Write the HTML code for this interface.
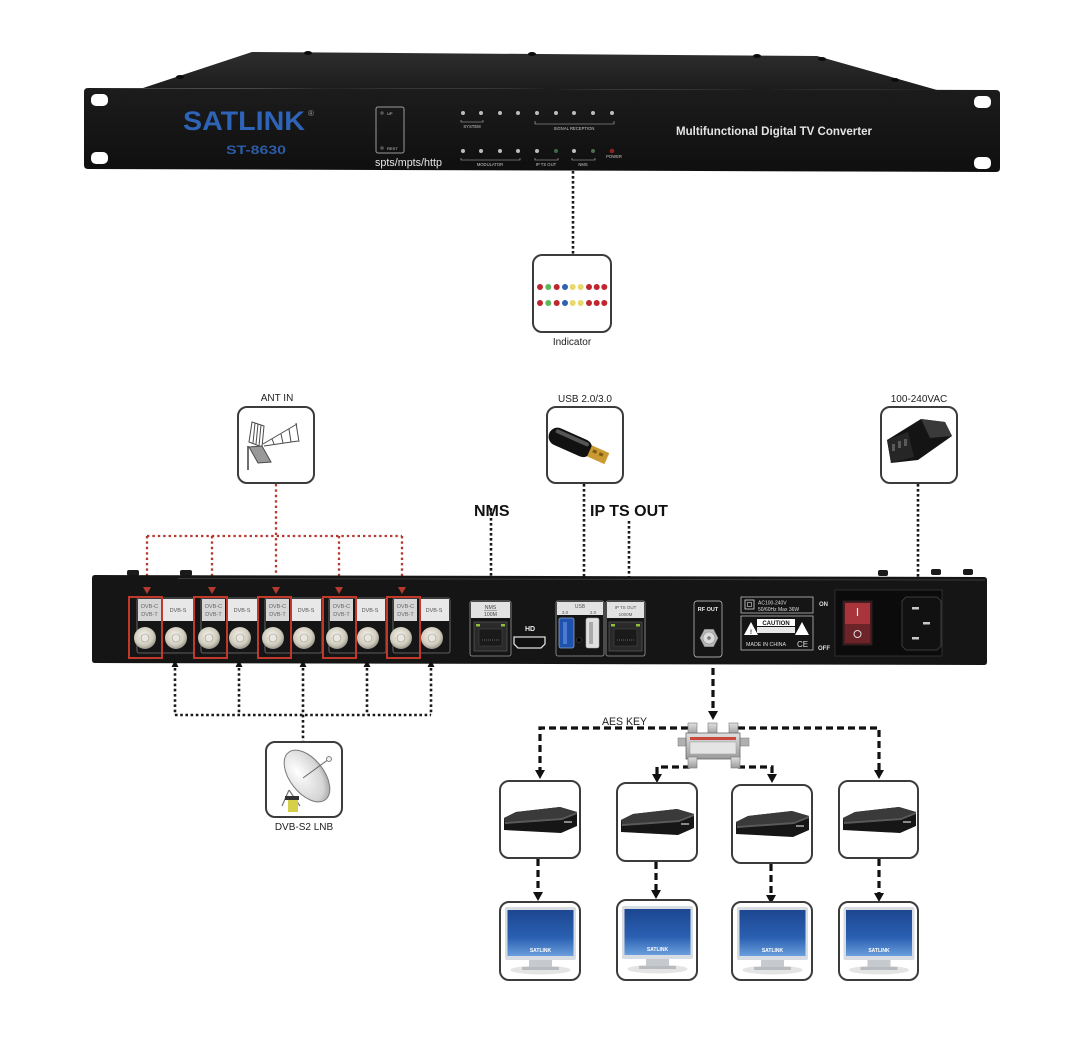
<!DOCTYPE html>
<html><head><meta charset="utf-8"><style>
html,body{margin:0;padding:0;background:#fff;}
svg{display:block;}
text{font-family:"Liberation Sans",sans-serif;}
</style></head><body>
<svg width="1080" height="1038" viewBox="0 0 1080 1038" xmlns="http://www.w3.org/2000/svg">
<defs>
 <linearGradient id="lid" x1="0" y1="0" x2="0" y2="1"><stop offset="0" stop-color="#2e2e2e"/><stop offset="1" stop-color="#1c1c1c"/></linearGradient>
 <linearGradient id="face" x1="0" y1="0" x2="0" y2="1"><stop offset="0" stop-color="#1c1c1c"/><stop offset="1" stop-color="#0f0f0f"/></linearGradient>
 <radialGradient id="fconn" cx="0.45" cy="0.4" r="0.65"><stop offset="0" stop-color="#f6f3ea"/><stop offset="0.65" stop-color="#cfcbbd"/><stop offset="1" stop-color="#8a877d"/></radialGradient>
 <linearGradient id="screen" x1="0" y1="0" x2="0" y2="1"><stop offset="0" stop-color="#1c4690"/><stop offset="0.6" stop-color="#2a60b2"/><stop offset="1" stop-color="#6a9edc"/></linearGradient>
 <linearGradient id="metal" x1="0" y1="0" x2="0" y2="1"><stop offset="0" stop-color="#e0e0e0"/><stop offset="1" stop-color="#9a9a9a"/></linearGradient>
 <radialGradient id="dish" cx="0.35" cy="0.35" r="0.8"><stop offset="0" stop-color="#ffffff"/><stop offset="0.7" stop-color="#d6d6d6"/><stop offset="1" stop-color="#8f8f8f"/></radialGradient>
</defs>

<!-- ================= FRONT PANEL ================= -->
<polygon points="143,88 252,52 817,56 937,90" fill="url(#lid)"/>
<g fill="#0c0c0c">
 <ellipse cx="180" cy="77" rx="4" ry="2"/>
 <ellipse cx="308" cy="53" rx="4" ry="2"/>
 <ellipse cx="532" cy="54" rx="4" ry="2"/>
 <ellipse cx="757" cy="56" rx="4" ry="2"/>
 <ellipse cx="822" cy="59" rx="4" ry="2"/>
 <ellipse cx="895" cy="80" rx="4" ry="2"/>
</g>
<path d="M88,88 L996,90 Q1000,90 1000,94 L1000,168 Q1000,172 996,172 L88,169 Q84,169 84,165 L84,92 Q84,88 88,88 Z" fill="url(#face)"/>
<g fill="#fff">
 <rect x="91" y="94" width="17" height="12" rx="5"/>
 <rect x="91" y="152" width="17" height="12" rx="5"/>
 <rect x="974" y="96" width="17" height="12" rx="5"/>
 <rect x="974" y="157" width="17" height="12" rx="5"/>
</g>
<text x="183" y="130" font-size="27" font-weight="bold" fill="#2e64b8" textLength="122" lengthAdjust="spacingAndGlyphs">SATLINK</text>
<text x="308" y="116" font-size="8" fill="#999">®</text>
<text x="226" y="154" font-size="12" font-weight="bold" fill="#2c5ca6" textLength="60" lengthAdjust="spacingAndGlyphs">ST-8630</text>

<rect x="376" y="107" width="28" height="46" rx="2" fill="none" stroke="#9a9a9a" stroke-width="1"/>
<circle cx="382" cy="113" r="1.8" fill="#555"/>
<circle cx="382" cy="148" r="1.8" fill="#555"/>
<text x="387" y="115" font-size="4" fill="#ccc">UP</text>
<text x="387" y="150" font-size="4" fill="#ccc">REST</text>
<text x="375" y="166" font-size="11" fill="#e6e6e6" textLength="67" lengthAdjust="spacingAndGlyphs">spts/mpts/http</text>

<!-- LEDs -->
<g fill="#bdbdbd">
 <circle cx="463" cy="113" r="2"/><circle cx="481" cy="113" r="2"/><circle cx="500" cy="113" r="2"/><circle cx="518" cy="113" r="2"/>
 <circle cx="537" cy="113" r="2"/><circle cx="556" cy="113" r="2"/><circle cx="574" cy="113" r="2"/><circle cx="593" cy="113" r="2"/><circle cx="612" cy="113" r="2"/>
 <circle cx="463" cy="151" r="2"/><circle cx="481" cy="151" r="2"/><circle cx="500" cy="151" r="2"/><circle cx="518" cy="151" r="2"/>
 <circle cx="537" cy="151" r="2"/><circle cx="574" cy="151" r="2"/>
</g>
<circle cx="556" cy="151" r="2" fill="#3d6a3d"/>
<circle cx="593" cy="151" r="2" fill="#4c6e4c"/>
<circle cx="612" cy="151" r="2.3" fill="#8a2222"/>
<g stroke="#bbb" stroke-width="0.6" fill="none">
 <path d="M461,120 V122 H483 V120"/>
 <path d="M535,121 V124 H614 V121"/>
 <path d="M461,158 V160 H520 V158"/>
 <path d="M535,158 V160 H558 V158"/>
 <path d="M572,158 V160 H595 V158"/>
</g>
<g font-size="4.2" fill="#c8c8c8" text-anchor="middle">
 <text x="472" y="128">SYSTEM</text>
 <text x="574" y="130">SIGNAL RECEPTION</text>
 <text x="490" y="166">MODULATOR</text>
 <text x="546" y="166">IP TS OUT</text>
 <text x="583" y="166">NMS</text>
 <text x="614" y="158">POWER</text>
</g>
<text x="676" y="135" font-size="12" font-weight="bold" fill="#e4e4e4" textLength="196" lengthAdjust="spacingAndGlyphs">Multifunctional Digital TV Converter</text>

<!-- ================= INDICATOR ================= -->
<line x1="573" y1="171" x2="573" y2="255" stroke="#1a1a1a" stroke-width="2.6" stroke-dasharray="2.6 2.4"/>
<rect x="533" y="255" width="78" height="77" rx="9" fill="#fff" stroke="#3c3c3c" stroke-width="2"/>
<g>
 <circle cx="540" cy="287" r="3" fill="#c0262d"/><circle cx="548.3" cy="287" r="3" fill="#5cb85c"/><circle cx="556.7" cy="287" r="3" fill="#c0262d"/><circle cx="565" cy="287" r="3" fill="#3060b0"/><circle cx="572.7" cy="287" r="3" fill="#e6d86a"/><circle cx="580.7" cy="287" r="3" fill="#e6d86a"/><circle cx="589" cy="287" r="3" fill="#c0262d"/><circle cx="596.7" cy="287" r="3" fill="#c0262d"/><circle cx="604.3" cy="287" r="3" fill="#c0262d"/>
 <circle cx="540" cy="303" r="3" fill="#c0262d"/><circle cx="548.3" cy="303" r="3" fill="#5cb85c"/><circle cx="556.7" cy="303" r="3" fill="#c0262d"/><circle cx="565" cy="303" r="3" fill="#3060b0"/><circle cx="572.7" cy="303" r="3" fill="#e6d86a"/><circle cx="580.7" cy="303" r="3" fill="#e6d86a"/><circle cx="589" cy="303" r="3" fill="#c0262d"/><circle cx="596.7" cy="303" r="3" fill="#c0262d"/><circle cx="604.3" cy="303" r="3" fill="#c0262d"/>
</g>
<text x="572" y="345" font-size="10" fill="#222" text-anchor="middle">Indicator</text>

<!-- ================= TOP ICONS ================= -->
<text x="277" y="401" font-size="10" fill="#222" text-anchor="middle">ANT IN</text>
<rect x="238" y="407" width="76" height="76" rx="9" fill="#fff" stroke="#3c3c3c" stroke-width="2"/>
<g stroke="#4a4a4a" stroke-width="1" fill="none">
 <polygon points="252,422 264,426 262,447 249,442"/>
 <line x1="255" y1="423" x2="253" y2="443"/><line x1="258" y1="424" x2="256" y2="444"/><line x1="261" y1="425" x2="259" y2="446"/>
 <line x1="263" y1="444" x2="297" y2="424"/><line x1="264" y1="446" x2="298" y2="441"/>
 <line x1="296" y1="423" x2="299" y2="442"/>
 <line x1="272" y1="439" x2="274" y2="444"/><line x1="281" y1="434" x2="283" y2="443"/><line x1="289" y1="429" x2="291" y2="442"/>
 <polygon points="249,447 262,446 271,462 258,463" fill="#999"/>
 <line x1="248" y1="446" x2="248" y2="470" stroke-width="1.6"/>
</g>

<text x="585" y="402" font-size="10" fill="#222" text-anchor="middle">USB 2.0/3.0</text>
<rect x="547" y="407" width="76" height="76" rx="9" fill="#fff" stroke="#3c3c3c" stroke-width="2"/>
<g transform="translate(574,444) rotate(24)">
 <rect x="-27" y="-9" width="46" height="18" rx="9" fill="#111"/>
 <rect x="-22" y="-7" width="36" height="4" rx="2" fill="#555"/>
 <rect x="17" y="-6" width="19" height="12" fill="#c99a32"/>
 <rect x="20" y="-3" width="4" height="3" fill="#7a5a14"/><rect x="27" y="-3" width="4" height="3" fill="#7a5a14"/>
</g>

<text x="919" y="402" font-size="10" fill="#222" text-anchor="middle">100-240VAC</text>
<rect x="881" y="407" width="76" height="76" rx="9" fill="#fff" stroke="#3c3c3c" stroke-width="2"/>
<polygon points="887,440 921,419 945,422 952,436 918,460 891,463" fill="#141414"/>
<polygon points="921,419 945,422 952,436 930,438" fill="#3a3a3a"/>
<polygon points="887,440 908,432 914,457 891,463" fill="#262626"/>
<g fill="#5a5a5a"><rect x="892" y="444" width="3" height="7"/><rect x="898" y="441" width="3" height="7"/><rect x="904" y="439" width="3" height="7"/></g>

<!-- ================= LABELS / CONNECTORS ABOVE REAR ================= -->
<text x="474" y="516" font-size="16" font-weight="bold" fill="#111">NMS</text>
<text x="590" y="516" font-size="16" font-weight="bold" fill="#111">IP TS OUT</text>
<g stroke="#1a1a1a" stroke-width="2.6" stroke-dasharray="2.6 2.4" fill="none">
 <line x1="491" y1="508" x2="491" y2="600"/>
 <line x1="584" y1="484" x2="584" y2="600"/>
 <line x1="629" y1="521" x2="629" y2="600"/>
 <line x1="918" y1="484" x2="918" y2="578"/>
</g>
<g stroke="#b5392e" stroke-width="2.3" stroke-dasharray="2.4 3" fill="none">
 <line x1="276" y1="484" x2="276" y2="588"/>
 <line x1="147" y1="536" x2="402" y2="536"/>
 <line x1="147" y1="536" x2="147" y2="588"/>
 <line x1="212" y1="536" x2="212" y2="588"/>
 <line x1="339" y1="536" x2="339" y2="588"/>
 <line x1="402" y1="536" x2="402" y2="588"/>
</g>

<!-- ================= REAR PANEL ================= -->
<g fill="#1a1a1a">
 <rect x="127" y="570" width="12" height="6" rx="2"/>
 <rect x="180" y="570" width="12" height="6" rx="2"/>
 <rect x="878" y="570" width="10" height="6" rx="2"/>
 <rect x="931" y="569" width="10" height="6" rx="2"/>
 <rect x="963" y="569" width="10" height="6" rx="2"/>
</g>
<path d="M95,575 L984,577 Q987,577 987,580 L987,662 Q987,665 984,665 L95,663 Q92,663 92,660 L92,578 Q92,575 95,575 Z" fill="#151515"/>
<line x1="178" y1="578.5" x2="985" y2="580" stroke="#3a3a3a" stroke-width="1"/>

<!-- red arrows -->
<g fill="#b5392e">
 <polygon points="143,587 151,587 147,594"/><polygon points="208,587 216,587 212,594"/><polygon points="272,587 280,587 276,594"/><polygon points="335,587 343,587 339,594"/><polygon points="398,587 406,587 402,594"/>
</g>

<!-- input pairs -->
<g>
 <g transform="translate(0,0)">
  <rect x="137" y="598" width="57" height="55" rx="2" fill="none" stroke="#7a7a7a" stroke-width="0.8"/>
  <rect x="138" y="599" width="23" height="22" fill="#d6d6d6"/><rect x="163" y="599" width="30" height="22" fill="#e8e8e8"/>
  <text x="149.5" y="608" font-size="5.5" fill="#666" text-anchor="middle">DVB-C</text><text x="149.5" y="616" font-size="5.5" fill="#666" text-anchor="middle">DVB-T</text>
  <text x="178" y="612" font-size="5.5" fill="#555" text-anchor="middle">DVB-S</text>
  <circle cx="145" cy="638" r="11" fill="url(#fconn)"/><circle cx="145" cy="638" r="4" fill="#e8e6de" stroke="#9a978d" stroke-width="0.6"/>
  <circle cx="176" cy="638" r="11" fill="url(#fconn)"/><circle cx="176" cy="638" r="4" fill="#e8e6de" stroke="#9a978d" stroke-width="0.6"/>
  <rect x="129" y="597" width="33" height="61" fill="none" stroke="#c0392b" stroke-width="2"/>
 </g>
 <g transform="translate(64,0)">
  <rect x="137" y="598" width="57" height="55" rx="2" fill="none" stroke="#7a7a7a" stroke-width="0.8"/>
  <rect x="138" y="599" width="23" height="22" fill="#d6d6d6"/><rect x="163" y="599" width="30" height="22" fill="#e8e8e8"/>
  <text x="149.5" y="608" font-size="5.5" fill="#666" text-anchor="middle">DVB-C</text><text x="149.5" y="616" font-size="5.5" fill="#666" text-anchor="middle">DVB-T</text>
  <text x="178" y="612" font-size="5.5" fill="#555" text-anchor="middle">DVB-S</text>
  <circle cx="145" cy="638" r="11" fill="url(#fconn)"/><circle cx="145" cy="638" r="4" fill="#e8e6de" stroke="#9a978d" stroke-width="0.6"/>
  <circle cx="176" cy="638" r="11" fill="url(#fconn)"/><circle cx="176" cy="638" r="4" fill="#e8e6de" stroke="#9a978d" stroke-width="0.6"/>
  <rect x="130" y="597" width="33" height="61" fill="none" stroke="#c0392b" stroke-width="2"/>
 </g>
 <g transform="translate(128,0)">
  <rect x="137" y="598" width="57" height="55" rx="2" fill="none" stroke="#7a7a7a" stroke-width="0.8"/>
  <rect x="138" y="599" width="23" height="22" fill="#d6d6d6"/><rect x="163" y="599" width="30" height="22" fill="#e8e8e8"/>
  <text x="149.5" y="608" font-size="5.5" fill="#666" text-anchor="middle">DVB-C</text><text x="149.5" y="616" font-size="5.5" fill="#666" text-anchor="middle">DVB-T</text>
  <text x="178" y="612" font-size="5.5" fill="#555" text-anchor="middle">DVB-S</text>
  <circle cx="145" cy="638" r="11" fill="url(#fconn)"/><circle cx="145" cy="638" r="4" fill="#e8e6de" stroke="#9a978d" stroke-width="0.6"/>
  <circle cx="176" cy="638" r="11" fill="url(#fconn)"/><circle cx="176" cy="638" r="4" fill="#e8e6de" stroke="#9a978d" stroke-width="0.6"/>
  <rect x="130" y="597" width="33" height="61" fill="none" stroke="#c0392b" stroke-width="2"/>
 </g>
 <g transform="translate(192,0)">
  <rect x="137" y="598" width="57" height="55" rx="2" fill="none" stroke="#7a7a7a" stroke-width="0.8"/>
  <rect x="138" y="599" width="23" height="22" fill="#d6d6d6"/><rect x="163" y="599" width="30" height="22" fill="#e8e8e8"/>
  <text x="149.5" y="608" font-size="5.5" fill="#666" text-anchor="middle">DVB-C</text><text x="149.5" y="616" font-size="5.5" fill="#666" text-anchor="middle">DVB-T</text>
  <text x="178" y="612" font-size="5.5" fill="#555" text-anchor="middle">DVB-S</text>
  <circle cx="145" cy="638" r="11" fill="url(#fconn)"/><circle cx="145" cy="638" r="4" fill="#e8e6de" stroke="#9a978d" stroke-width="0.6"/>
  <circle cx="176" cy="638" r="11" fill="url(#fconn)"/><circle cx="176" cy="638" r="4" fill="#e8e6de" stroke="#9a978d" stroke-width="0.6"/>
  <rect x="131" y="597" width="33" height="61" fill="none" stroke="#c0392b" stroke-width="2"/>
 </g>
 <g transform="translate(256,0)">
  <rect x="137" y="598" width="57" height="55" rx="2" fill="none" stroke="#7a7a7a" stroke-width="0.8"/>
  <rect x="138" y="599" width="23" height="22" fill="#d6d6d6"/><rect x="163" y="599" width="30" height="22" fill="#e8e8e8"/>
  <text x="149.5" y="608" font-size="5.5" fill="#666" text-anchor="middle">DVB-C</text><text x="149.5" y="616" font-size="5.5" fill="#666" text-anchor="middle">DVB-T</text>
  <text x="178" y="612" font-size="5.5" fill="#555" text-anchor="middle">DVB-S</text>
  <circle cx="145" cy="638" r="11" fill="url(#fconn)"/><circle cx="145" cy="638" r="4" fill="#e8e6de" stroke="#9a978d" stroke-width="0.6"/>
  <circle cx="176" cy="638" r="11" fill="url(#fconn)"/><circle cx="176" cy="638" r="4" fill="#e8e6de" stroke="#9a978d" stroke-width="0.6"/>
  <rect x="131" y="597" width="33" height="61" fill="none" stroke="#c0392b" stroke-width="2"/>
 </g>
</g>

<!-- NMS port -->
<rect x="470" y="601" width="41" height="55" rx="2" fill="none" stroke="#9a9a9a" stroke-width="0.8"/>
<rect x="471" y="602" width="39" height="16" fill="#e2e2e2"/>
<text x="490.5" y="609" font-size="5.2" fill="#444" text-anchor="middle">NMS</text>
<line x1="484" y1="610.5" x2="497" y2="610.5" stroke="#666" stroke-width="0.5"/>
<text x="490.5" y="616" font-size="5.2" fill="#444" text-anchor="middle">100M</text>
<rect x="474" y="622" width="33" height="29" fill="#2a2a2a" stroke="#555" stroke-width="0.8"/>
<rect x="479" y="629" width="23" height="17" fill="#1a1a1a" stroke="#444" stroke-width="0.6"/>
<rect x="476" y="624" width="4" height="2.5" fill="#8fbf3a"/><rect x="501" y="624" width="4" height="2.5" fill="#8fbf3a"/>
<line x1="482" y1="640" x2="499" y2="640" stroke="#666" stroke-width="1" stroke-dasharray="1 1"/>

<!-- HDMI -->
<text x="530" y="631" font-size="7" font-weight="bold" fill="#eee" text-anchor="middle">HD</text>
<path d="M514,637 H545 V644 L541,648 H518 L514,644 Z" fill="#111" stroke="#ddd" stroke-width="1.3"/>

<!-- USB -->
<rect x="556" y="601" width="48" height="55" rx="2" fill="none" stroke="#9a9a9a" stroke-width="0.8"/>
<rect x="557" y="602" width="46" height="13" fill="#e2e2e2"/>
<text x="580" y="608" font-size="5" fill="#555" text-anchor="middle">USB</text>
<text x="565" y="614" font-size="4.5" fill="#555" text-anchor="middle">3.0</text>
<text x="593" y="614" font-size="4.5" fill="#555" text-anchor="middle">2.0</text>
<rect x="559" y="618" width="15" height="30" rx="2" fill="#1f52ad" stroke="#8aa4cc" stroke-width="0.8"/>
<rect x="563" y="622" width="4" height="22" fill="#4a7ad0"/>
<rect x="586" y="618" width="13" height="30" rx="2" fill="#e0e0e0" stroke="#aaa" stroke-width="0.6"/>
<rect x="589" y="622" width="4" height="22" fill="#aaa"/>
<circle cx="579" cy="640" r="2.5" fill="#000" stroke="#444" stroke-width="0.6"/>

<!-- IP TS OUT -->
<rect x="606" y="601" width="39" height="55" rx="2" fill="none" stroke="#9a9a9a" stroke-width="0.8"/>
<rect x="607" y="602" width="37" height="16" fill="#e2e2e2"/>
<text x="625.5" y="609" font-size="4.5" fill="#555" text-anchor="middle">IP TS OUT</text>
<text x="625.5" y="616" font-size="4.5" fill="#555" text-anchor="middle">1000M</text>
<rect x="609" y="622" width="33" height="29" fill="#2a2a2a" stroke="#555" stroke-width="0.8"/>
<rect x="614" y="629" width="23" height="17" fill="#1a1a1a" stroke="#444" stroke-width="0.6"/>
<rect x="611" y="624" width="4" height="2.5" fill="#8fbf3a"/><rect x="636" y="624" width="4" height="2.5" fill="#8fbf3a"/>
<line x1="617" y1="640" x2="634" y2="640" stroke="#666" stroke-width="1" stroke-dasharray="1 1"/>

<!-- RF OUT -->
<rect x="694" y="601" width="28" height="56" rx="3" fill="none" stroke="#a5a5a5" stroke-width="0.9"/>
<text x="708" y="611" font-size="5.5" font-weight="bold" fill="#eee" text-anchor="middle">RF OUT</text>
<polygon points="718,638 713.5,646.7 704.5,646.7 700,638 704.5,629.3 713.5,629.3" fill="#b8b8b8" stroke="#777" stroke-width="0.6"/>
<circle cx="709" cy="638" r="6" fill="#dcdcdc" stroke="#888" stroke-width="0.6"/>
<circle cx="709" cy="638" r="1.8" fill="#777"/>

<!-- AC label / caution -->
<rect x="741" y="597" width="72" height="16" fill="none" stroke="#bbb" stroke-width="0.8"/>
<rect x="745" y="600" width="9" height="9" fill="none" stroke="#ddd" stroke-width="0.8"/>
<rect x="747.5" y="602.5" width="4" height="4" fill="none" stroke="#ddd" stroke-width="0.6"/>
<text x="758" y="604.5" font-size="5" fill="#ddd">AC100-240V</text>
<text x="758" y="611" font-size="5" fill="#ddd">50/60Hz Max 36W</text>
<rect x="741" y="616" width="72" height="34" fill="none" stroke="#bbb" stroke-width="0.8"/>
<rect x="757" y="619" width="38" height="7" fill="#fff"/>
<text x="776" y="625" font-size="6" font-weight="bold" fill="#111" text-anchor="middle">CAUTION</text>
<rect x="757" y="627" width="38" height="6" fill="#e8e8e8"/>
<polygon points="744,635 751,622 758,635" fill="#fff"/>
<polygon points="795,635 802,622 809,635" fill="#fff"/>
<text x="751" y="634" font-size="6" font-weight="bold" fill="#111" text-anchor="middle">!</text>
<text x="746" y="646" font-size="5.3" fill="#ddd">MADE IN CHINA</text>
<text x="797" y="647" font-size="8" fill="#ddd">CE</text>
<text x="819" y="606" font-size="6" font-weight="bold" fill="#ddd">ON</text>
<text x="818" y="650" font-size="6" font-weight="bold" fill="#ddd">OFF</text>

<!-- switch + inlet -->
<rect x="835" y="590" width="107" height="66" fill="#0b0b0b" stroke="#2e2e2e" stroke-width="1"/>
<rect x="843" y="601" width="29" height="44" fill="#4a1a1e" stroke="#222" stroke-width="1"/>
<rect x="845" y="603" width="25" height="21" fill="#a8343c"/>
<rect x="845" y="624" width="25" height="19" fill="#6d2428"/>
<line x1="857.5" y1="608" x2="857.5" y2="616" stroke="#eee" stroke-width="1.2"/>
<circle cx="857.5" cy="634" r="3.5" fill="none" stroke="#ddd" stroke-width="1"/>
<path d="M906,597 H937 L941,601 V646 L937,650 H906 L902,646 V601 Z" fill="#111" stroke="#3a3a3a" stroke-width="1"/>
<g fill="#c8c8c8">
 <rect x="912" y="607" width="7" height="2.5"/>
 <rect x="923" y="622" width="7" height="2.5"/>
 <rect x="912" y="637" width="7" height="2.5"/>
</g>

<!-- ================= LNB connectors (bottom-left) ================= -->
<g fill="#111">
 <polygon points="171.5,667 178.5,667 175,660"/><polygon points="235.5,667 242.5,667 239,660"/><polygon points="299.5,667 306.5,667 303,660"/><polygon points="363.5,667 370.5,667 367,660"/><polygon points="427.5,667 434.5,667 431,660"/>
</g>
<g stroke="#1a1a1a" stroke-width="2.6" stroke-dasharray="2.6 2.6" fill="none">
 <line x1="175" y1="668" x2="175" y2="715"/>
 <line x1="239" y1="668" x2="239" y2="715"/>
 <line x1="303" y1="668" x2="303" y2="742"/>
 <line x1="367" y1="668" x2="367" y2="715"/>
 <line x1="431" y1="668" x2="431" y2="715"/>
 <line x1="175" y1="715" x2="431" y2="715"/>
</g>
<rect x="266" y="742" width="76" height="75" rx="9" fill="#fff" stroke="#3c3c3c" stroke-width="2"/>
<g>
 <line x1="289" y1="790" x2="282" y2="806" stroke="#777" stroke-width="1.2"/>
 <line x1="289" y1="790" x2="300" y2="806" stroke="#777" stroke-width="1.2"/>
 <ellipse cx="307" cy="776" rx="17" ry="30" transform="rotate(-38 307 776)" fill="url(#dish)" stroke="#7a7a7a" stroke-width="1"/>
 <line x1="303" y1="778" x2="329" y2="759" stroke="#666" stroke-width="1"/>
 <circle cx="329" cy="759" r="2.5" fill="#eee" stroke="#666" stroke-width="0.8"/>
 <rect x="285" y="796" width="14" height="4" fill="#333"/>
 <rect x="288" y="800" width="10" height="12" fill="#d6cf4a"/>
</g>
<text x="304" y="830" font-size="10" fill="#222" text-anchor="middle">DVB-S2 LNB</text>

<!-- ================= RF distribution ================= -->
<g stroke="#111" stroke-width="3.2" stroke-dasharray="7 4" fill="none">
 <line x1="713" y1="668" x2="713" y2="711"/>
 <polyline points="688,728 540,728 540,770"/>
 <polyline points="738,728 879,728 879,770"/>
 <polyline points="690,767 657,767 657,774"/>
 <polyline points="738,767 772,767 772,774"/>
 <line x1="538" y1="859" x2="538" y2="892"/>
 <line x1="656" y1="862" x2="656" y2="890"/>
 <line x1="771" y1="864" x2="771" y2="895"/>
 <line x1="879" y1="859" x2="879" y2="893"/>
</g>
<g fill="#111">
 <polygon points="708,711 718,711 713,720"/>
 <polygon points="535,770 545,770 540,779"/>
 <polygon points="874,770 884,770 879,779"/>
 <polygon points="652,774 662,774 657,783"/>
 <polygon points="767,774 777,774 772,783"/>
 <polygon points="533,892 543,892 538,901"/>
 <polygon points="651,890 661,890 656,899"/>
 <polygon points="766,895 776,895 771,904"/>
 <polygon points="874,893 884,893 879,902"/>
</g>
<text x="602" y="725" font-size="11" fill="#222" textLength="45" lengthAdjust="spacingAndGlyphs">AES KEY</text>

<!-- splitter -->
<g>
 <rect x="688" y="723" width="9" height="12" fill="url(#metal)" stroke="#777" stroke-width="0.6"/>
 <rect x="708" y="723" width="9" height="12" fill="url(#metal)" stroke="#777" stroke-width="0.6"/>
 <rect x="729" y="723" width="9" height="12" fill="url(#metal)" stroke="#777" stroke-width="0.6"/>
 <rect x="678" y="738" width="12" height="8" fill="#b0b0b0" stroke="#777" stroke-width="0.5"/>
 <rect x="737" y="738" width="12" height="8" fill="#b0b0b0" stroke="#777" stroke-width="0.5"/>
 <rect x="686" y="733" width="54" height="26" fill="url(#metal)" stroke="#666" stroke-width="0.8"/>
 <rect x="690" y="737" width="46" height="3" fill="#c94a3a"/>
 <rect x="690" y="742" width="46" height="12" fill="#e4e4e4" stroke="#999" stroke-width="0.5"/>
 <rect x="688" y="757" width="9" height="11" fill="url(#metal)" stroke="#777" stroke-width="0.6"/>
 <rect x="731" y="757" width="9" height="11" fill="url(#metal)" stroke="#777" stroke-width="0.6"/>
</g>

<!-- STB boxes -->
<rect x="500" y="781" width="80" height="77" rx="9" fill="#fff" stroke="#3c3c3c" stroke-width="2"/>
<rect x="617" y="783" width="80" height="78" rx="9" fill="#fff" stroke="#3c3c3c" stroke-width="2"/>
<rect x="732" y="785" width="80" height="78" rx="9" fill="#fff" stroke="#3c3c3c" stroke-width="2"/>
<rect x="839" y="781" width="79" height="77" rx="9" fill="#fff" stroke="#3c3c3c" stroke-width="2"/>
<g transform="translate(500,781)">
 <polygon points="4,37 16,31 60,26 77,31 77,45 61,52 4,49" fill="#161616"/>
 <polygon points="4,37 16,31 60,26 77,31 62,37 5,41" fill="#3a3a3a"/>
 <polygon points="5,41 62,37 77,31 77,33 62,39 5,43" fill="#5a5a5a"/>
 <rect x="64" y="40" width="8" height="2" fill="#888"/>
</g>
<g transform="translate(617,783)">
 <polygon points="4,37 16,31 60,26 77,31 77,45 61,52 4,49" fill="#161616"/>
 <polygon points="4,37 16,31 60,26 77,31 62,37 5,41" fill="#3a3a3a"/>
 <polygon points="5,41 62,37 77,31 77,33 62,39 5,43" fill="#5a5a5a"/>
 <rect x="64" y="40" width="8" height="2" fill="#888"/>
</g>
<g transform="translate(732,785)">
 <polygon points="4,37 16,31 60,26 77,31 77,45 61,52 4,49" fill="#161616"/>
 <polygon points="4,37 16,31 60,26 77,31 62,37 5,41" fill="#3a3a3a"/>
 <polygon points="5,41 62,37 77,31 77,33 62,39 5,43" fill="#5a5a5a"/>
 <rect x="64" y="40" width="8" height="2" fill="#888"/>
</g>
<g transform="translate(839,781)">
 <polygon points="4,37 16,31 60,26 77,31 77,45 61,52 4,49" fill="#161616"/>
 <polygon points="4,37 16,31 60,26 77,31 62,37 5,41" fill="#3a3a3a"/>
 <polygon points="5,41 62,37 77,31 77,33 62,39 5,43" fill="#5a5a5a"/>
 <rect x="64" y="40" width="8" height="2" fill="#888"/>
</g>

<!-- Monitor boxes -->
<rect x="500" y="902" width="80" height="78" rx="9" fill="#fff" stroke="#3c3c3c" stroke-width="2"/>
<rect x="617" y="900" width="80" height="80" rx="9" fill="#fff" stroke="#3c3c3c" stroke-width="2"/>
<rect x="732" y="902" width="80" height="78" rx="9" fill="#fff" stroke="#3c3c3c" stroke-width="2"/>
<rect x="839" y="902" width="79" height="78" rx="9" fill="#fff" stroke="#3c3c3c" stroke-width="2"/>
<g transform="translate(500,902)">
 <ellipse cx="40.5" cy="68" rx="30" ry="4.5" fill="#e4e4e4"/>
 <rect x="29" y="57" width="23" height="10" fill="#c6c9cd"/>
 <rect x="22" y="65" width="37" height="3" fill="#b8bbbf"/>
 <rect x="5" y="5" width="71" height="53" rx="2" fill="#d8dde3"/>
 <rect x="7.5" y="8" width="66" height="46" fill="url(#screen)"/>
 <text x="40.5" y="50" font-size="5" font-weight="bold" fill="#fff" text-anchor="middle">SATLINK</text>
</g>
<g transform="translate(617,901)">
 <ellipse cx="40.5" cy="68" rx="30" ry="4.5" fill="#e4e4e4"/>
 <rect x="29" y="57" width="23" height="10" fill="#c6c9cd"/>
 <rect x="22" y="65" width="37" height="3" fill="#b8bbbf"/>
 <rect x="5" y="5" width="71" height="53" rx="2" fill="#d8dde3"/>
 <rect x="7.5" y="8" width="66" height="46" fill="url(#screen)"/>
 <text x="40.5" y="50" font-size="5" font-weight="bold" fill="#fff" text-anchor="middle">SATLINK</text>
</g>
<g transform="translate(732,902)">
 <ellipse cx="40.5" cy="68" rx="30" ry="4.5" fill="#e4e4e4"/>
 <rect x="29" y="57" width="23" height="10" fill="#c6c9cd"/>
 <rect x="22" y="65" width="37" height="3" fill="#b8bbbf"/>
 <rect x="5" y="5" width="71" height="53" rx="2" fill="#d8dde3"/>
 <rect x="7.5" y="8" width="66" height="46" fill="url(#screen)"/>
 <text x="40.5" y="50" font-size="5" font-weight="bold" fill="#fff" text-anchor="middle">SATLINK</text>
</g>
<g transform="translate(839,902)">
 <ellipse cx="40" cy="68" rx="30" ry="4.5" fill="#e4e4e4"/>
 <rect x="28.5" y="57" width="23" height="10" fill="#c6c9cd"/>
 <rect x="21.5" y="65" width="37" height="3" fill="#b8bbbf"/>
 <rect x="4.5" y="5" width="71" height="53" rx="2" fill="#d8dde3"/>
 <rect x="7" y="8" width="66" height="46" fill="url(#screen)"/>
 <text x="40" y="50" font-size="5" font-weight="bold" fill="#fff" text-anchor="middle">SATLINK</text>
</g>
</svg>
</body></html>
